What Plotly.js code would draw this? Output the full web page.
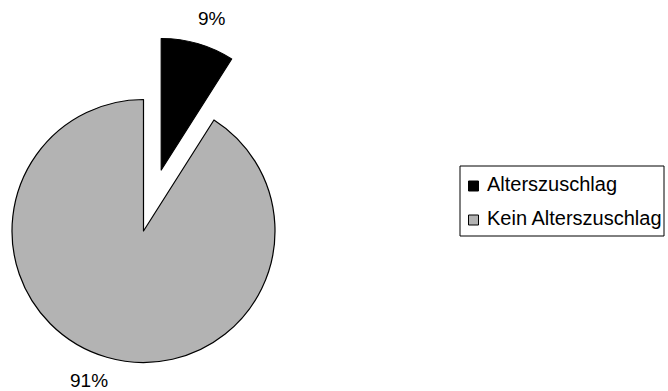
<!DOCTYPE html>
<html>
<head>
<meta charset="utf-8">
<script src="https://cdn.plot.ly/plotly-3.0.1.min.js"></script>
<style>
  html, body { margin: 0; padding: 0; background: #ffffff; overflow: hidden; }
  #chart { width: 668px; height: 391px; }
</style>
</head>
<body>
<div id="chart"></div>
<script>
// Share of cases with / without an age surcharge
const categories = ['Alterszuschlag', 'Kein Alterszuschlag'];
const shares = [9, 91];
const sliceColors = ['#000000', '#b3b3b3'];

// Geometry of the figure (pixels)
const W = 668, H = 391;
const pieCenter = { x: 143.5, y: 231 };
const pieRadius = 131.5;
const pullFraction = 0.483;   // how far the first slice is exploded, relative to the radius
const fontFamily = '"Liberation Sans", Arial, sans-serif';
const CLEAR = 'rgba(0,0,0,0)';

const px = v => v / W;
const py = v => 1 - v / H;

function domainAround(cx, cy, r) {
  return { x: [px(cx - r), px(cx + r)], y: [py(cy + r), py(cy - r)] };
}

// Mid-angle of the exploded slice (clockwise from 12 o'clock)
const total = shares.reduce((a, b) => a + b, 0);
const midAngle = (shares[0] / total) * Math.PI;
const pullDist = pullFraction * pieRadius;
const pulledCenter = {
  x: pieCenter.x + Math.sin(midAngle) * pullDist,
  y: pieCenter.y - Math.cos(midAngle) * pullDist
};

const common = {
  type: 'pie',
  labels: categories,
  values: shares,
  sort: false,
  direction: 'clockwise',
  rotation: 0,
  textinfo: 'none',
  hoverinfo: 'label+percent',
  showlegend: false
};

// Remaining slices, in place
const baseTrace = Object.assign({}, common, {
  domain: domainAround(pieCenter.x, pieCenter.y, pieRadius),
  marker: {
    colors: [CLEAR, sliceColors[1]],
    line: { color: [CLEAR, '#000000'], width: 1.2 }
  }
});

// Exploded first slice
const pulledTrace = Object.assign({}, common, {
  domain: domainAround(pulledCenter.x, pulledCenter.y, pieRadius),
  marker: {
    colors: [sliceColors[0], CLEAR],
    line: { color: ['#000000', CLEAR], width: 1.2 }
  }
});

const pct = v => Math.round(v / total * 100) + '%';

// Percentage labels
const labelPos = [{ x: 212, y: 18 }, { x: 89, y: 380 }];
const annotations = shares.map((v, i) => ({
  xref: 'paper', yref: 'paper',
  x: px(labelPos[i].x), y: py(labelPos[i].y),
  xanchor: 'center', yanchor: 'middle',
  text: pct(v), showarrow: false,
  font: { family: fontFamily, size: 19, color: '#000000' }
}));

// Legend box
const legendBox = { x0: 460, y0: 166, x1: 664, y1: 236 };
const legendRows = [184, 218];
const shapes = [{
  type: 'rect', xref: 'paper', yref: 'paper',
  x0: px(legendBox.x0), x1: px(legendBox.x1),
  y0: py(legendBox.y1), y1: py(legendBox.y0),
  line: { color: '#000000', width: 1 }, fillcolor: '#ffffff', layer: 'below'
}];
categories.forEach((name, i) => {
  const cy = legendRows[i] + 2;
  shapes.push({
    type: 'rect', xref: 'paper', yref: 'paper',
    x0: px(468.5), x1: px(478.5),
    y0: py(cy + 5), y1: py(cy - 5),
    line: { color: '#000000', width: 1 }, fillcolor: sliceColors[i]
  });
  annotations.push({
    xref: 'paper', yref: 'paper',
    x: px(485), y: py(legendRows[i]),
    xanchor: 'left', yanchor: 'middle',
    text: name, showarrow: false,
    font: { family: fontFamily, size: 20, color: '#000000' }
  });
});

const layout = {
  width: W, height: H,
  margin: { l: 0, r: 0, t: 0, b: 0, pad: 0 },
  paper_bgcolor: '#ffffff',
  plot_bgcolor: '#ffffff',
  showlegend: false,
  font: { family: fontFamily, size: 20, color: '#000000' },
  shapes: shapes,
  annotations: annotations
};

Plotly.newPlot('chart', [baseTrace, pulledTrace], layout, { displayModeBar: false, staticPlot: true });
</script>
</body>
</html>
